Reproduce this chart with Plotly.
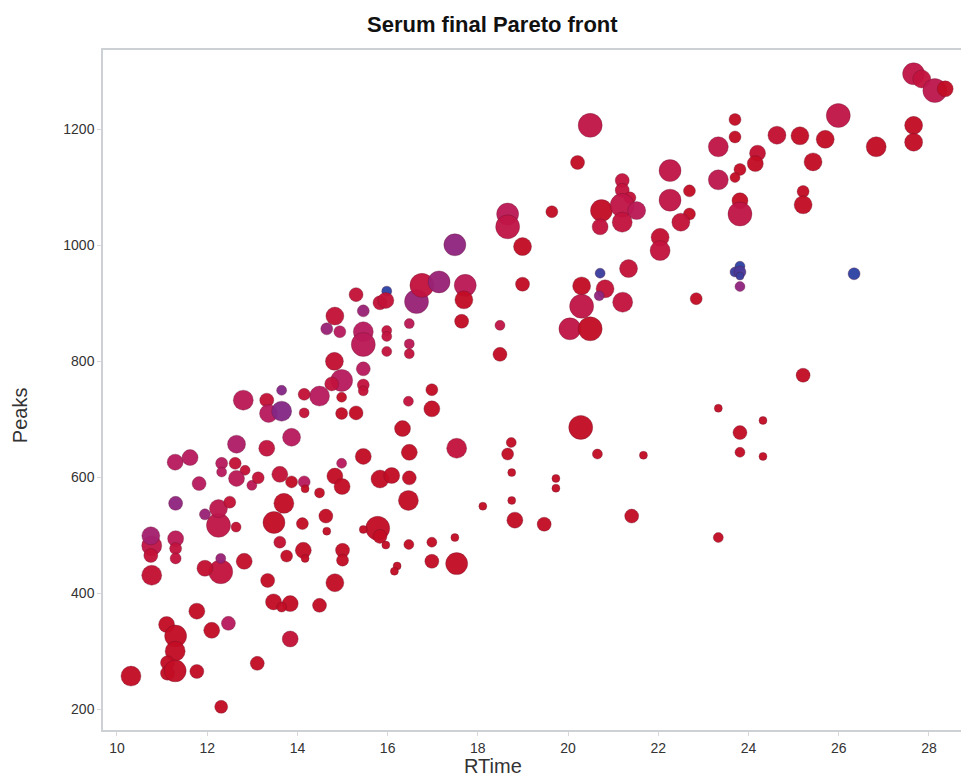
import plotly.graph_objects as go

# Retention time (min) of each solution on the Pareto front
rtime = [
    10.31, 11.10, 11.30, 11.29, 11.12, 11.12, 11.29, 11.77, 11.77, 12.10,
    12.47, 13.11, 12.31, 13.84, 13.47, 13.84, 13.65, 13.34, 14.49, 14.83,
    12.82, 12.30, 11.95, 12.30, 10.77, 10.77, 10.75, 10.75, 11.30, 11.30,
    11.30, 11.30, 12.25, 12.25, 11.95, 12.64, 13.48, 13.70, 13.61, 13.76,
    14.11, 14.13, 14.17, 14.63, 14.65, 15.00, 15.00, 15.78, 15.46, 15.83,
    15.96, 12.50, 11.82, 12.99, 13.13, 12.84, 12.65, 12.62, 12.32, 12.32,
    11.29, 11.62, 12.65, 13.32, 13.87, 13.61, 13.87, 12.80, 13.32, 13.65,
    13.36, 13.65, 14.15, 14.17,
    15.30, 15.98, 15.83, 15.96, 16.64, 16.76, 17.14, 17.72, 17.69, 17.64,
    15.46, 14.83, 14.65, 14.94, 15.46, 15.46, 15.98, 15.98, 15.98, 16.48,
    16.48, 16.48, 14.82, 15.46, 14.98, 14.76, 15.46, 15.46, 14.49, 14.15,
    14.15, 14.98, 14.98, 15.30, 16.46, 16.98, 16.98, 16.33, 16.48, 17.53,
    15.46, 14.98, 14.83, 14.99, 15.83, 16.09, 16.48, 16.46, 14.49, 16.47,
    16.98, 16.98, 17.49, 17.53, 16.21, 16.15, 17.49,
    18.49, 18.49, 20.04, 20.49, 20.28, 18.74, 18.66, 18.75, 18.75, 18.82,
    18.11, 19.47, 19.73, 19.73, 20.65, 21.67, 21.41, 20.49, 20.21, 19.64,
    18.66, 18.66, 18.99, 18.99, 20.74, 20.71, 21.20, 21.20, 21.37, 21.20,
    21.52, 21.20, 22.26, 22.26, 22.04, 22.04, 21.34, 20.71, 20.30, 20.82,
    20.69, 20.30, 21.21,
    27.66, 27.84, 28.13, 28.36, 25.99, 27.66, 27.66, 26.83, 23.70, 23.70,
    24.63, 25.14, 25.70, 25.43, 23.33, 23.33, 23.81, 23.70, 24.20, 24.15,
    22.69, 22.69, 22.50, 23.81, 23.81, 25.21, 25.21, 23.81, 23.70, 23.81,
    23.81, 23.81, 26.34, 22.84, 25.21, 23.33, 23.33, 23.81, 24.32, 23.81,
    24.32,
]

# Number of detected peaks for each solution
peaks = [
    257, 346, 326, 300, 280, 262, 266, 265, 369, 336,
    348, 279, 204, 321, 385, 382, 376, 422, 379, 418,
    455, 437, 443, 460, 431, 482, 499, 465, 494, 477,
    460, 555, 517, 546, 536, 514, 522, 555, 488, 464,
    520, 474, 460, 533, 507, 474, 457, 512, 510, 498,
    483, 557, 589, 586, 599, 612, 598, 624, 624, 609,
    626, 634, 657, 650, 669, 605, 592, 733, 733, 750,
    710, 714, 592, 580,
    915, 921, 901, 905, 903, 931, 937, 931, 906, 869,
    887, 878, 856, 851, 851, 829, 853, 843, 817, 865,
    830, 813, 800, 787, 767, 761, 759, 749, 740, 743,
    711, 738, 710, 711, 731, 751, 718, 684, 643, 650,
    636, 624, 602, 584, 597, 603, 599, 560, 573, 484,
    488, 455, 496, 451, 447, 438, 1001,
    862, 812, 856, 856, 686, 660, 640, 608, 560, 526,
    550, 519, 598, 581, 640, 638, 533, 1207, 1143, 1058,
    1054, 1032, 998, 933, 1060, 1032, 1112, 1095, 1082, 1069,
    1060, 1040, 1129, 1078, 1014, 991, 960, 952, 930, 925,
    913, 895, 902,
    1296, 1287, 1267, 1270, 1224, 1207, 1178, 1170, 1217, 1187,
    1190, 1189, 1183, 1144, 1170, 1113, 1131, 1117, 1159, 1141,
    1094, 1054, 1040, 1077, 1054, 1093, 1070, 964, 954, 954,
    947, 929, 951, 908, 776, 496, 719, 677, 698, 643,
    636,
]

# Bubble size encodes a third objective
weight = [
    20, 16, 22, 20, 14, 14, 22, 14, 16, 16,
    14, 14, 13, 16, 16, 16, 10, 14, 14, 18,
    16, 24, 16, 10, 20, 20, 18, 14, 16, 12,
    11, 14, 24, 18, 11, 10, 22, 20, 12, 12,
    12, 16, 8, 14, 8, 14, 12, 24, 8, 14,
    8, 12, 14, 10, 12, 10, 16, 12, 12, 10,
    16, 16, 18, 16, 18, 16, 12, 20, 14, 10,
    18, 20, 12, 8,
    14, 10, 14, 16, 24, 24, 22, 22, 18, 14,
    12, 18, 12, 12, 20, 24, 10, 10, 10, 10,
    10, 10, 18, 14, 22, 14, 12, 10, 20, 12,
    10, 10, 12, 14, 10, 12, 16, 16, 16, 20,
    16, 10, 16, 16, 18, 16, 14, 20, 10, 10,
    10, 14, 8, 22, 8, 8, 22,
    10, 14, 22, 24, 24, 10, 12, 8, 8, 16,
    8, 14, 8, 8, 10, 8, 14, 24, 14, 12,
    22, 24, 18, 14, 22, 16, 14, 14, 12, 24,
    18, 20, 22, 22, 18, 20, 18, 10, 18, 18,
    10, 24, 20,
    22, 18, 24, 16, 24, 18, 18, 20, 12, 12,
    18, 18, 18, 18, 20, 20, 12, 10, 16, 16,
    12, 12, 18, 16, 24, 12, 18, 10, 10, 12,
    8, 10, 12, 12, 14, 10, 8, 14, 8, 10,
    8,
]

# Colour encodes a fourth objective (0 = red, 1 = blue)
score = [
    0.05, 0.05, 0.05, 0.05, 0.05, 0.05, 0.05, 0.05, 0.05, 0.05,
    0.45, 0.05, 0.05, 0.20, 0.05, 0.05, 0.05, 0.05, 0.05, 0.05,
    0.10, 0.25, 0.15, 0.60, 0.15, 0.30, 0.55, 0.20, 0.40, 0.25,
    0.25, 0.65, 0.30, 0.35, 0.60, 0.15, 0.05, 0.05, 0.15, 0.05,
    0.05, 0.05, 0.05, 0.05, 0.05, 0.05, 0.05, 0.05, 0.05, 0.05,
    0.05, 0.20, 0.45, 0.40, 0.20, 0.20, 0.40, 0.20, 0.45, 0.45,
    0.45, 0.45, 0.50, 0.25, 0.45, 0.20, 0.05, 0.40, 0.20, 0.70,
    0.45, 0.70, 0.45, 0.05,
    0.20, 1.00, 0.20, 0.20, 0.60, 0.25, 0.60, 0.40, 0.05, 0.05,
    0.60, 0.20, 0.60, 0.45, 0.45, 0.40, 0.25, 0.25, 0.25, 0.40,
    0.40, 0.25, 0.15, 0.45, 0.45, 0.25, 0.25, 0.20, 0.45, 0.20,
    0.20, 0.05, 0.05, 0.05, 0.25, 0.05, 0.05, 0.05, 0.05, 0.25,
    0.05, 0.45, 0.05, 0.05, 0.05, 0.05, 0.05, 0.05, 0.05, 0.05,
    0.05, 0.05, 0.05, 0.05, 0.05, 0.05, 0.65,
    0.30, 0.05, 0.30, 0.05, 0.05, 0.05, 0.05, 0.05, 0.05, 0.05,
    0.05, 0.05, 0.05, 0.05, 0.05, 0.05, 0.05, 0.30, 0.05, 0.05,
    0.40, 0.30, 0.05, 0.05, 0.05, 0.25, 0.25, 0.25, 0.20, 0.30,
    0.40, 0.25, 0.30, 0.30, 0.15, 0.25, 0.20, 0.95, 0.05, 0.20,
    0.65, 0.30, 0.25,
    0.30, 0.25, 0.35, 0.05, 0.30, 0.05, 0.05, 0.05, 0.05, 0.05,
    0.15, 0.05, 0.05, 0.05, 0.30, 0.35, 0.05, 0.05, 0.15, 0.05,
    0.05, 0.05, 0.20, 0.05, 0.30, 0.05, 0.05, 1.00, 0.95, 0.90,
    0.95, 0.65, 1.00, 0.05, 0.05, 0.05, 0.05, 0.05, 0.05, 0.05,
    0.05,
]

x_ticks = [10, 12, 14, 16, 18, 20, 22, 24, 26, 28]
y_ticks = [200, 400, 600, 800, 1000, 1200]

colorscale = [
    [0.0, "#c20c1e"],
    [0.25, "#c3133f"],
    [0.45, "#b81c5f"],
    [0.7, "#852887"],
    [1.0, "#2d43a3"],
]

fig = go.Figure(
    go.Scatter(
        x=rtime,
        y=peaks,
        mode="markers",
        marker=dict(
            size=weight,
            sizemode="diameter",
            color=score,
            colorscale=colorscale,
            cmin=0,
            cmax=1,
            opacity=0.96,
            line=dict(width=0.7, color="rgba(90,20,40,0.45)"),
        ),
        hoverinfo="x+y",
        showlegend=False,
    )
)

axis_font = dict(family="Liberation Sans, Arial, sans-serif", size=14, color="#333333")

fig.update_xaxes(
    range=[9.69, 28.71],
    tickvals=x_ticks,
    ticktext=[str(v) for v in x_ticks],
    showgrid=False,
    zeroline=False,
    showline=True,
    mirror=True,
    linecolor="#cdd0d4",
    linewidth=1.5,
    ticks="outside",
    ticklen=4,
    tickcolor="#d8d8d8",
    tickfont=axis_font,
)
fig.update_yaxes(
    range=[164, 1337],
    tickvals=y_ticks,
    ticktext=[str(v) for v in y_ticks],
    showgrid=False,
    zeroline=False,
    showline=True,
    linecolor="#cdd0d4",
    linewidth=1.5,
    ticks="outside",
    ticklen=4,
    tickcolor="#d8d8d8",
    tickfont=axis_font,
)

text_font = "Liberation Sans, Arial, sans-serif"
fig.update_layout(
    width=961,
    height=776,
    margin=dict(l=103, r=0, t=50, b=46),
    paper_bgcolor="white",
    plot_bgcolor="white",
    annotations=[
        dict(
            text="<b>Serum final Pareto front</b>",
            xref="paper", yref="paper",
            x=0.454, y=1.0, yshift=26,
            xanchor="center", yanchor="middle",
            showarrow=False,
            font=dict(family=text_font, size=22, color="#111111"),
        ),
        dict(
            text="RTime",
            xref="paper", yref="paper",
            x=0.454, y=0, yshift=-36,
            xanchor="center", yanchor="middle",
            showarrow=False,
            font=dict(family=text_font, size=20, color="#333333"),
        ),
        dict(
            text="Peaks",
            xref="paper", yref="paper",
            x=0, xshift=-83, y=0.463,
            xanchor="center", yanchor="middle",
            textangle=-90,
            showarrow=False,
            font=dict(family=text_font, size=20, color="#333333"),
        ),
    ],
)

fig.write_html("out.html")
